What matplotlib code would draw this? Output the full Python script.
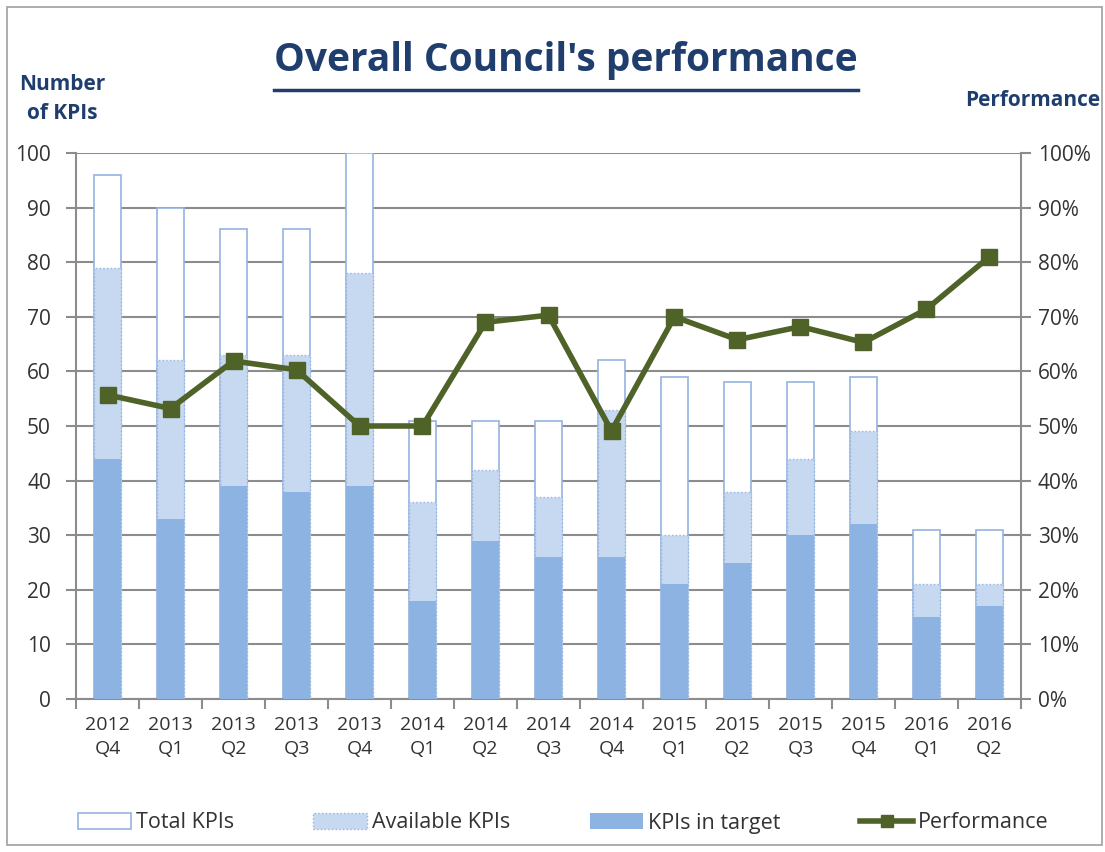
import matplotlib
matplotlib.use("Agg")
import matplotlib.pyplot as plt
from matplotlib.patches import Patch, Rectangle
from matplotlib.lines import Line2D
from matplotlib.ticker import PercentFormatter, FixedLocator

plt.rcParams['font.family'] = ['Open Sans', 'DejaVu Sans']

quarters = ["2012\nQ4", "2013\nQ1", "2013\nQ2", "2013\nQ3", "2013\nQ4",
            "2014\nQ1", "2014\nQ2", "2014\nQ3", "2014\nQ4", "2015\nQ1",
            "2015\nQ2", "2015\nQ3", "2015\nQ4", "2016\nQ1", "2016\nQ2"]
total_kpis = [96, 90, 86, 86, 100, 51, 51, 51, 62, 59, 58, 58, 59, 31, 31]
available_kpis = [79, 62, 63, 63, 78, 36, 42, 37, 53, 30, 38, 44, 49, 21, 21]
kpis_in_target = [44, 33, 39, 38, 39, 18, 29, 26, 26, 21, 25, 30, 32, 15, 17]
performance = [55.7, 53.2, 61.9, 60.3, 50.0, 50.0, 69.0, 70.3, 49.1, 70.0,
               65.8, 68.2, 65.3, 71.4, 81.0]

navy = "#1F3E6E"
blue_dark = "#8DB3E2"
blue_light = "#C6D9F1"
edge = "#95B3E0"
green = "#4F6228"
grid_c = "#8C8C8C"
txt_c = "#333333"

W, H = 1105, 852
fig = plt.figure(figsize=(W / 100, H / 100), dpi=100)

# rahmen um das ganze diagramm
fig.add_artist(Rectangle((7 / W, 1 - 845 / H), 1095 / W, 838 / H,
                         transform=fig.transFigure, fill=False,
                         edgecolor="#A0A0A0", linewidth=1.2))

ax = fig.add_axes([76 / W, 1 - 699 / H, (1021 - 76) / W, (699 - 153) / H])
x = list(range(len(quarters)))
bw = 0.43

ax.bar(x, total_kpis, width=bw, color="white", edgecolor=edge, linewidth=1.2, zorder=2)
ax.bar(x, available_kpis, width=bw, color=blue_light, edgecolor=edge,
       linewidth=1.0, linestyle=":", zorder=3)
ax.bar(x, kpis_in_target, width=bw, color=blue_dark, edgecolor="none", zorder=4)

ax.set_xlim(-0.5, len(quarters) - 0.5)
ax.set_ylim(0, 100)
ax.set_yticks(range(0, 101, 10))
ax.yaxis.grid(True, color=grid_c, linewidth=1.5, zorder=1)
ax.set_axisbelow(True)
ax.set_xticks(x)
ax.set_xticklabels(quarters, fontsize=14, color=txt_c, linespacing=1.45)
ax.xaxis.set_minor_locator(FixedLocator([i - 0.5 for i in range(len(quarters) + 1)]))
ax.tick_params(axis="x", which="major", length=0, pad=12)
ax.tick_params(axis="x", which="minor", length=7, width=1.5, color=grid_c)
ax.tick_params(axis="y", length=7, width=1.5, color=grid_c, labelsize=15,
               labelcolor=txt_c, pad=11)
for s in ["top", "right"]:
    ax.spines[s].set_visible(False)
for s in ["left", "bottom"]:
    ax.spines[s].set_color(grid_c)
    ax.spines[s].set_linewidth(1.5)

ax2 = ax.twinx()
ax2.plot(x, performance, color=green, linewidth=4, marker="s", markersize=12,
         zorder=5)
ax2.set_ylim(0, 100)
ax2.set_yticks(range(0, 101, 10))
ax2.yaxis.set_major_formatter(PercentFormatter(decimals=0))
ax2.tick_params(axis="y", length=7, width=1.5, color=grid_c, labelsize=15,
                labelcolor=txt_c, pad=5)
for s in ["top", "left", "bottom"]:
    ax2.spines[s].set_visible(False)
ax2.spines["right"].set_color(grid_c)
ax2.spines["right"].set_linewidth(1.5)

# titel mit unterstreichung
title = fig.text(566 / W, 1 - 61 / H, "Overall Council's performance",
                 ha="center", va="center", fontsize=28, fontweight="bold", color=navy)
fig.canvas.draw()
bb = title.get_window_extent(fig.canvas.get_renderer())
fig.add_artist(Line2D([bb.x0 / W, bb.x1 / W], [1 - 90 / H, 1 - 90 / H],
                      transform=fig.transFigure, color=navy, linewidth=2.5))

fig.text(62 / W, 1 - 99 / H, "Number\nof KPIs", ha="center", va="center",
         fontsize=15, fontweight="bold", color=navy, linespacing=1.5)
fig.text(1100 / W, 1 - 100 / H, "Performance", ha="right", va="center",
         fontsize=15, fontweight="bold", color=navy)

handles = [
    Patch(facecolor="white", edgecolor=edge, linewidth=1.2),
    Patch(facecolor=blue_light, edgecolor=edge, linewidth=1.0, linestyle=":"),
    Patch(facecolor=blue_dark, edgecolor="none"),
    Line2D([], [], color=green, linewidth=4, marker="s", markersize=9),
]
labels = ["Total KPIs", "Available KPIs", "KPIs in target", "Performance"]
fig.legend(handles, labels, loc="center", bbox_to_anchor=(563 / W, 1 - 823 / H),
           ncol=4, frameon=False, fontsize=15.5, handlelength=2.5, handleheight=0.8,
           handletextpad=0.2, columnspacing=3.7, labelcolor=txt_c)

fig.savefig("out.png", dpi=100)
